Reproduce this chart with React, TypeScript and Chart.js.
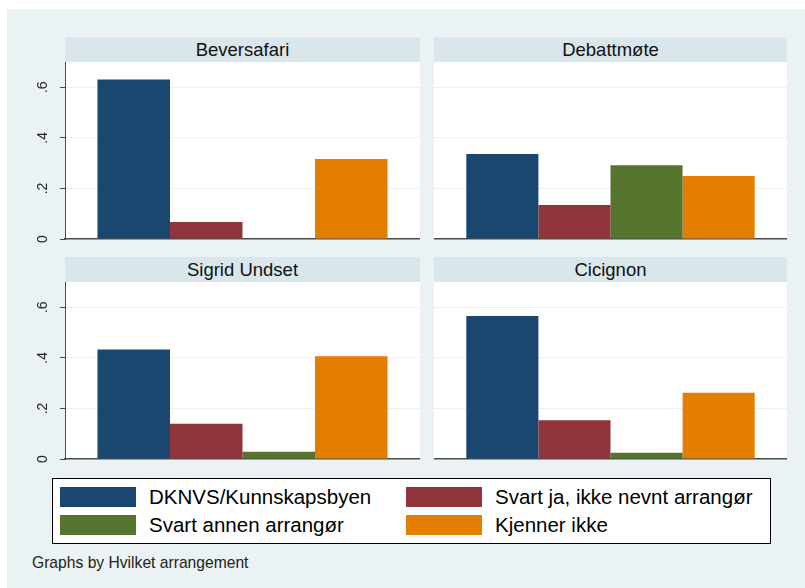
import React, { useEffect, useRef } from "react";
import { Chart, registerables } from "chart.js";
Chart.register(...registerables);

const panels = ["Beversafari", "Debattmøte", "Sigrid Undset", "Cicignon"];
const seriesNames = [
  "DKNVS/Kunnskapsbyen",
  "Svart ja, ikke nevnt arrangør",
  "Svart annen arrangør",
  "Kjenner ikke",
];
const dknvs = [0.631, 0.336, 0.433, 0.566];
const svartJa = [0.067, 0.134, 0.139, 0.153];
const svartAnnen = [0, 0.292, 0.029, 0.025];
const kjennerIkke = [0.316, 0.249, 0.406, 0.262];
const seriesColors = ["#1a476f", "#90353b", "#55752f", "#e37e00"];
const yTickValues = [0, 0.2, 0.4, 0.6];
const yTickLabels = ["0", ".2", ".4", ".6"];
const yMax = 0.7;
const footnote = "Graphs by Hvilket arrangement";

const FONT = "'Liberation Sans', Arial, sans-serif";
const AXIS = "#4a4a4a";
const GRID = "#eaf2f3";

function Panel(props: { idx: number; showAxis: boolean; left: number; top: number; width: number; height: number }) {
  const ref = useRef<HTMLCanvasElement>(null);
  const { idx, showAxis } = props;
  useEffect(() => {
    const values = [dknvs, svartJa, svartAnnen, kjennerIkke];
    const chart = new Chart(ref.current as HTMLCanvasElement, {
      type: "bar",
      data: {
        labels: [panels[idx]],
        datasets: values.map((arr, i) => ({
          label: seriesNames[i],
          data: [arr[idx]],
          backgroundColor: seriesColors[i],
          borderWidth: 0,
        })),
      },
      options: {
        animation: false,
        responsive: false,
        maintainAspectRatio: false,
        layout: { padding: { top: 0, left: 0, right: 0, bottom: 12 } },
        datasets: { bar: { categoryPercentage: 0.817, barPercentage: 1 } },
        plugins: { legend: { display: false }, tooltip: { enabled: false }, title: { display: false } },
        scales: {
          x: {
            display: true,
            ticks: { display: false },
            grid: { display: false, drawTicks: false },
            border: { display: true, color: AXIS, width: 1.5 },
            afterFit: (s: any) => {
              s.height = 0;
              s.paddingLeft = 0;
              s.paddingRight = 0;
            },
          },
          y: {
            min: 0,
            max: yMax,
            afterBuildTicks: (s: any) => {
              s.ticks = yTickValues.map((v) => ({ value: v }));
            },
            ticks: {
              display: showAxis,
              minRotation: 90,
              maxRotation: 90,
              crossAlign: "center",
              padding: 11,
              color: "#222",
              font: { family: FONT, size: 14 },
              callback: (_v: any, i: number) => yTickLabels[i],
            },
            grid: {
              color: (c: any) => (c.tick && c.tick.value === 0 ? "rgba(0,0,0,0)" : GRID),
              lineWidth: 1,
              drawTicks: showAxis,
              tickLength: 5,
              tickColor: AXIS,
            },
            border: { display: showAxis, color: AXIS, width: 1 },
            afterFit: (s: any) => {
              s.width = showAxis ? 45 : 0;
              s.paddingTop = 0;
              s.paddingBottom = 0;
            },
          },
        },
      } as any,
      plugins: [
        {
          id: "plotBg",
          beforeDraw(c: any) {
            const a = c.chartArea;
            c.ctx.save();
            c.ctx.fillStyle = "#ffffff";
            c.ctx.fillRect(a.left, a.top, a.right - a.left, a.bottom - a.top);
            c.ctx.restore();
          },
        },
      ],
    });
    return () => chart.destroy();
  }, [idx, showAxis]);
  return (
    <canvas
      ref={ref}
      width={props.width}
      height={props.height}
      style={{ position: "absolute", left: props.left, top: props.top, width: props.width, height: props.height }}
    />
  );
}

function Header(props: { text: string; left: number; top: number; width: number }) {
  return (
    <div
      style={{
        position: "absolute",
        left: props.left,
        top: props.top,
        width: props.width,
        height: 25,
        lineHeight: "25px",
        background: "#d9e6eb",
        textAlign: "center",
        fontFamily: FONT,
        fontSize: 18.5,
        color: "#111",
      }}
    >
      {props.text}
    </div>
  );
}

function LegendItem(props: { color: string; text: string; left: number; top: number; textLeft: number }) {
  return (
    <>
      <div
        style={{
          position: "absolute",
          left: props.left,
          top: props.top,
          width: 76,
          height: 20,
          background: props.color,
        }}
      />
      <div
        style={{
          position: "absolute",
          left: props.textLeft,
          top: props.top,
          height: 20,
          lineHeight: "20px",
          fontFamily: FONT,
          fontSize: 20.5,
          color: "#000",
          whiteSpace: "nowrap",
        }}
      >
        {props.text}
      </div>
    </>
  );
}

export default function App() {
  const cols = [
    { plotLeft: 65, plotWidth: 355, showAxis: true },
    { plotLeft: 434, plotWidth: 353, showAxis: false },
  ];
  const rows = [
    { headerTop: 37, plotTop: 62 },
    { headerTop: 257, plotTop: 282 },
  ];
  const plotH = 177;
  return (
    <div
      style={{ position: "absolute", left: 0, top: 0, width: 805, height: 588, overflow: "hidden", background: "#fff" }}
    >
      <div style={{ position: "absolute", left: 7, top: 9, width: 798, height: 579, background: "#eaf2f3" }} />
      {panels.map((p, i) => {
        const c = cols[i % 2];
        const r = rows[Math.floor(i / 2)];
        const canvasLeft = c.showAxis ? c.plotLeft - 45 : c.plotLeft;
        const canvasWidth = c.showAxis ? c.plotWidth + 45 : c.plotWidth;
        return (
          <React.Fragment key={p}>
            <Header text={p} left={c.plotLeft} top={r.headerTop} width={c.plotWidth} />
            <Panel idx={i} showAxis={c.showAxis} left={canvasLeft} top={r.plotTop} width={canvasWidth} height={plotH + 12} />
          </React.Fragment>
        );
      })}
      <div
        style={{
          position: "absolute",
          left: 52,
          top: 478,
          width: 719,
          height: 66,
          boxSizing: "border-box",
          border: "1px solid #000",
          background: "#fff",
        }}
      />
      <LegendItem color={seriesColors[0]} text={seriesNames[0]} left={60} top={487} textLeft={149} />
      <LegendItem color={seriesColors[1]} text={seriesNames[1]} left={406} top={487} textLeft={495} />
      <LegendItem color={seriesColors[2]} text={seriesNames[2]} left={60} top={515} textLeft={149} />
      <LegendItem color={seriesColors[3]} text={seriesNames[3]} left={406} top={515} textLeft={495} />
      <div
        style={{
          position: "absolute",
          left: 32,
          top: 553,
          height: 20,
          lineHeight: "20px",
          fontFamily: FONT,
          fontSize: 17,
          color: "#222",
          whiteSpace: "nowrap",
          transform: "scaleX(0.92)",
          transformOrigin: "left center",
        }}
      >
        {footnote}
      </div>
    </div>
  );
}
